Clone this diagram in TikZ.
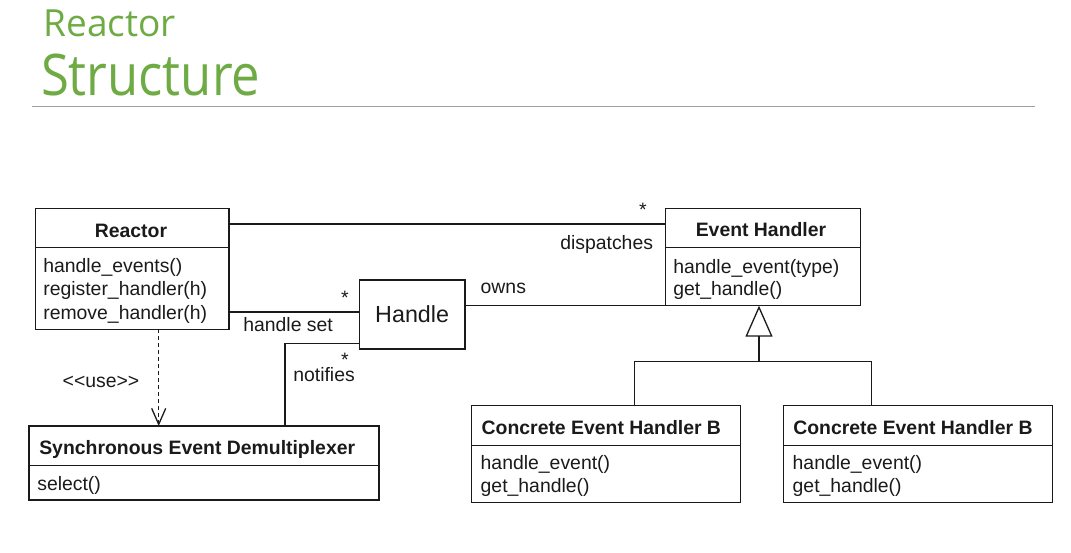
\documentclass[tikz,border=0pt]{standalone}
\usepackage{fontspec}
\usepackage{graphicx}
\setmainfont{Liberation Sans}
\newfontfamily\titlefont{Open Sans}
\usetikzlibrary{arrows.meta}
\definecolor{titlegreen}{HTML}{6EAB44}
\definecolor{rulegray}{HTML}{A0A0A0}
\definecolor{ink}{HTML}{1A1A1A}
\begin{document}
\begin{tikzpicture}[x=1pt,y=-1pt,
  umlbox/.style={draw=ink, line width=1.3pt, anchor=north west, inner sep=0pt, outer sep=0pt},
  txt/.style={inner sep=0pt, outer sep=0pt, text=ink, font=\fontsize{19.4}{23.3}\selectfont},
  boldtxt/.style={txt, font=\fontsize{19.4}{23.3}\selectfont\bfseries},
  startxt/.style={txt, anchor=base, text depth=0pt},
  conn/.style={draw=ink, line width=1.3pt},
  divider/.style={draw=ink, line width=1.3pt},
  titletxt/.style={inner sep=0pt, outer sep=0pt, anchor=base west, text=titlegreen},
]
\useasboundingbox (0,0) rectangle (1071,553);

% title
\node[titletxt, font=\titlefont\fontsize{37.4}{40}\selectfont] (tReactor) at (43.5,36.7) {\scalebox{0.99}[1]{Reactor}};
\node[titletxt, font=\titlefont\fontsize{57.4}{60}\selectfont] (tStructure) at (41,96) {\scalebox{0.885}[1]{Structure}};
\draw[rulegray, line width=1.5pt] (31.7,106.7) -- (1035,106.7);

% helper coordinates
\coordinate (yDisp) at (0,224);
\coordinate (ySet) at (0,312);
\coordinate (yNot) at (0,343.3);
\coordinate (yJoin) at (0,361.7);
\coordinate (xNot) at (285,0);
\coordinate (xUse) at (158.7,0);
\coordinate (xGen) at (759,0);
\coordinate (xA) at (634.3,0);
\coordinate (xB) at (871.7,0);
\coordinate (yRd) at (0,247.3);
\coordinate (ySd) at (0,465.7);
\coordinate (yCd) at (0,445.7);

% boxes
\node[umlbox, minimum width=193.3pt, minimum height=121pt] (reactor) at (35.7,208.3) {};
\node[umlbox, minimum width=105.7pt, minimum height=69pt, font=\fontsize{23.3}{26}\selectfont, text=ink] (handle) at (359.3,280) {Handle};
\node[umlbox, minimum width=350pt, minimum height=74pt] (sed) at (29,426) {};
\node[umlbox, minimum width=195pt, minimum height=97.4pt] (eh) at (665.7,208.3) {};
\node[umlbox, minimum width=269pt, minimum height=97pt] (ca) at (471.7,405.7) {};
\node[umlbox, minimum width=269.4pt, minimum height=97pt] (cb) at (783.3,405.7) {};

% dividers
\draw[divider] (reactor.west |- yRd) -- (reactor.east |- yRd);
\draw[divider] (eh.west |- yRd) -- (eh.east |- yRd);
\draw[divider] (sed.west |- ySd) -- (sed.east |- ySd);
\draw[divider] (ca.west |- yCd) -- (ca.east |- yCd);
\draw[divider] (cb.west |- yCd) -- (cb.east |- yCd);

% class names
\node[boldtxt, anchor=base] (nReactor) at (131,237.3) {Reactor};
\node[boldtxt, anchor=base] (nEH) at (761,237) {Event Handler};
\node[boldtxt, anchor=base west] (nSED) at (39.3,454.5) {Synchronous Event Demultiplexer};
\node[boldtxt, anchor=base west] (nCA) at (481.7,434) {Concrete Event Handler B};
\node[boldtxt, anchor=base west] (nCB) at (793.3,434) {Concrete Event Handler B};

% operations
\node[txt, anchor=base west] (r1) at (43.3,272.7) {handle\_events()};
\node[txt, anchor=base west] (r2) at (43.3,296) {register\_handler(h)};
\node[txt, anchor=base west] (r3) at (43.3,319.3) {remove\_handler(h)};
\node[txt, anchor=base west] (e1) at (673.3,273.3) {handle\_event(type)};
\node[txt, anchor=base west] (e2) at (673.3,296) {get\_handle()};
\node[txt, anchor=base west] (s1) at (37.3,490) {select()};
\node[txt, anchor=base west] (a1) at (480.7,469.3) {handle\_event()};
\node[txt, anchor=base west] (a2) at (480.7,492.7) {get\_handle()};
\node[txt, anchor=base west] (b1) at (792.7,469.3) {handle\_event()};
\node[txt, anchor=base west] (b2) at (792.7,492.7) {get\_handle()};

% connectors
\draw[conn] (reactor.east |- yDisp) -- (eh.west |- yDisp);
\draw[conn] (handle.east |- eh.south) -- (eh.south west);
\draw[conn] (reactor.east |- ySet) -- (handle.west |- ySet);
\draw[conn] (handle.west |- yNot) -| (sed.north -| xNot);
\draw[conn, dash pattern=on 4pt off 3pt, -{Straight Barb[length=16pt,width=14pt,line width=1.3pt]}] (reactor.south -| xUse) -- (sed.north -| xUse);
\draw[conn] (ca.north -| xA) -- (xA |- yJoin) -- (xB |- yJoin) -- (cb.north -| xB);
\draw[conn, -{Triangle[open,length=31pt,width=27pt,line width=1.3pt]}] (xGen |- yJoin) -- (eh.south -| xGen);

% labels
\node[startxt] (sDisp) at (643,209) {\raisebox{-8pt}{*}};
\node[txt, anchor=base east] (lDisp) at (653,249.5) {dispatches};
\node[txt, anchor=base west] (lOwns) at (480.7,294) {owns};
\node[startxt] (sSet) at (345,296.5) {\raisebox{-8pt}{*}};
\node[txt, anchor=base west] (lSet) at (243.3,331.7) {handle set};
\node[startxt] (sNot) at (345,359) {\raisebox{-8pt}{*}};
\node[txt, anchor=base west] (lNot) at (293.3,381.7) {notifies};
\node[txt, anchor=base west] (lUse) at (62.7,387) {{<}{<}use{>}{>}};
\end{tikzpicture}
\end{document}
